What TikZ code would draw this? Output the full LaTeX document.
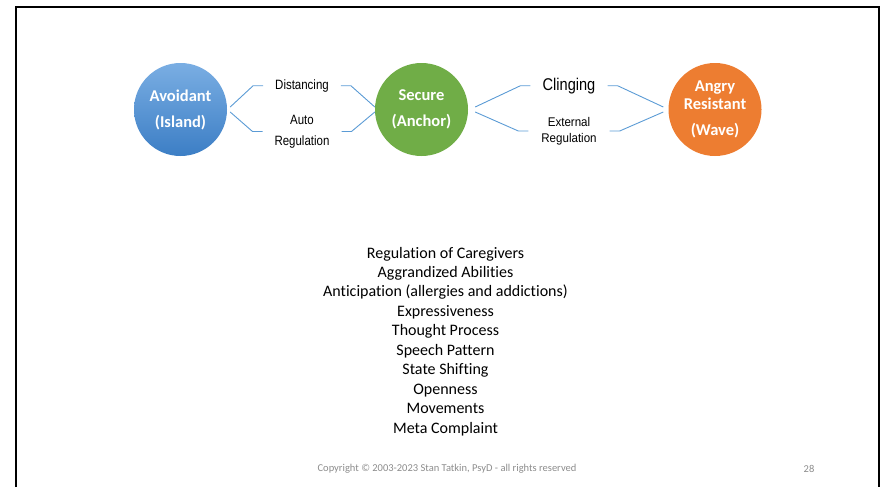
\documentclass[tikz,border=0pt]{standalone}
\usepackage{fontspec}
\setmainfont{Carlito}[Ligatures=NoCommon]
\newfontfamily\arialfont{Liberation Sans}
\usepackage{tikz}

\definecolor{avblueA}{RGB}{122,174,227}
\definecolor{avblueB}{RGB}{60,126,197}
\definecolor{securegreen}{RGB}{112,173,71}
\definecolor{angryorange}{RGB}{237,125,49}
\definecolor{linkblue}{RGB}{91,155,213}
\definecolor{footgray}{RGB}{140,140,140}

\begin{document}
\begin{tikzpicture}[x=1pt,y=-1pt,
  blob/.style={circle,minimum size=93pt,inner sep=0pt,text=white,align=center,font=\bfseries\fontsize{16.5}{18}\selectfont},
  lbl/.style={xscale=0.85,inner xsep=14pt,inner ysep=0pt,align=center,font=\arialfont\fontsize{13.5}{21}\selectfont},
  link/.style={draw=linkblue,line width=0.9pt}]
\useasboundingbox (0,0) rectangle (882,487);
\draw[line width=2.3pt] (16.2,487) -- (16.2,7.2) -- (878.8,7.2) -- (878.8,487);

\node[blob,top color=avblueA,bottom color=avblueB] (AV) at (180.5,109.5) {Avoidant\\[8pt](Island)};
\node[blob,fill=securegreen] (SE) at (421.5,109.5) {Secure\\[8pt](Anchor)};
\node[blob,fill=angryorange] (AN) at (715,109.5) {Angry\\Resistant\\[8pt](Wave)};

\node[lbl] (DI) at (302,85.7) {Distancing};
\node[lbl] (AR) at (302,131.5) {Auto\\Regulation};
\node[lbl,xscale=1.01,font=\arialfont\fontsize{17}{18}\selectfont] (CL) at (569,85.7) {Clinging};
\node[lbl,xscale=1.08,font=\arialfont\fontsize{12.6}{16}\selectfont] (ER) at (569,131) {External\\Regulation};

\draw[link] ([xshift=3pt,yshift=2.5pt]AV.east) -- ([xshift=-10pt]DI.west) -- (DI.west);
\draw[link] ([xshift=3pt,yshift=-2.5pt]AV.east) -- ([xshift=-10pt]AR.west) -- (AR.west);
\draw[link] (DI.east) -- ([xshift=10pt]DI.east) -- ([yshift=2.5pt]SE.west);
\draw[link] (AR.east) -- ([xshift=10pt]AR.east) -- ([yshift=-2.5pt]SE.west);
\draw[link] ([xshift=7pt,yshift=2.5pt]SE.east) -- ([xshift=-10pt]CL.west) -- (CL.west);
\draw[link] ([xshift=7pt,yshift=-2.5pt]SE.east) -- ([xshift=-10pt]ER.west) -- (ER.west);
\draw[link] (CL.east) -- ([xshift=10pt]CL.east) -- ([xshift=-5pt,yshift=2.5pt]AN.west);
\draw[link] (ER.east) -- ([xshift=10pt]ER.east) -- ([xshift=-5pt,yshift=-2.5pt]AN.west);

\foreach \t [count=\i from 0] in {Regulation of Caregivers,Aggrandized Abilities,Anticipation (allergies and addictions),Expressiveness,Thought Process,Speech Pattern,State Shifting,Openness,Movements,Meta Complaint}
  \node[anchor=base,font=\fontsize{16}{19.5}\selectfont] (trait\i) at (445.5,258+19.45*\i) {\t};

\node[font=\fontsize{10.5}{12}\selectfont,text=footgray] (copy) at (447,469) {Copyright © 2003-2023 Stan Tatkin, PsyD - all rights reserved};
\node[font=\fontsize{10.5}{12}\selectfont,text=footgray] (page) at (809,469) {28};
\end{tikzpicture}
\end{document}
